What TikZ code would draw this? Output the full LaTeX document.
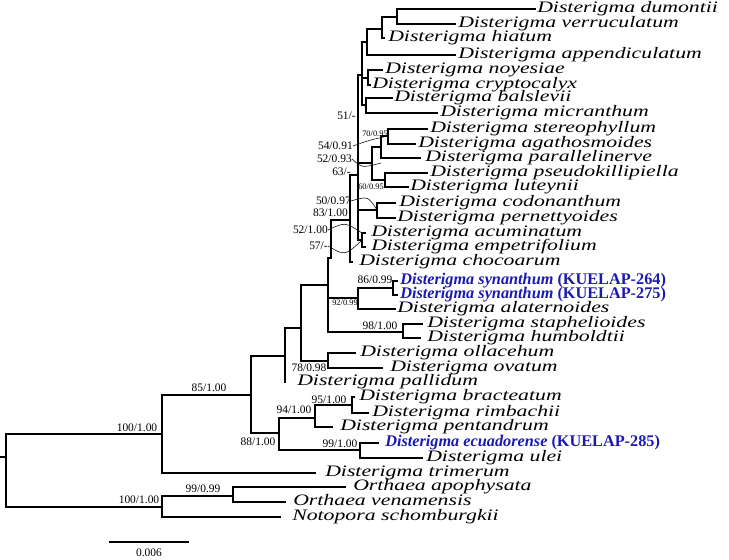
\documentclass[tikz,border=0pt]{standalone}
\usepackage{fontspec}
\setmainfont{Liberation Serif}
\newfontfamily\lfont[FakeStretch=1.36]{Liberation Serif}
\definecolor{kblue}{HTML}{1A1AB0}
\newcommand\brr[2]{\draw[tree] (#1) |- (#2);}
\newcommand\lv[5]{\coordinate (#1) at (#2,#3); \node[leaftxt] (#1-l) at (#4,#3) {#5};}
\newcommand\bl[2]{\color{kblue}\fontsize{12.2}{12}\rmfamily\bfseries\itshape #1 \upshape #2}
\begin{document}
\begin{tikzpicture}[x=0.75pt,y=-0.75pt,
  tree/.style={line width=1.1pt,line cap=rect},
  leaftxt/.style={anchor=mid west,inner sep=0pt,font=\lfont\itshape\fontsize{12}{12}\selectfont},
  sup/.style={inner sep=0pt,font=\fontsize{8.6}{9}\selectfont},
  supsm/.style={inner sep=0pt,font=\fontsize{6.3}{7}\selectfont},
  lead/.style={line width=0.4pt}]
\useasboundingbox (0,0) rectangle (729,560);
% internal nodes
\coordinate (stub) at (0,457);
\coordinate (root) at (6,457);
\coordinate (ing) at (162,434);
\coordinate (out) at (162,507);
\coordinate (n99o) at (233,496);
\coordinate (n85) at (251,395);
\coordinate (n88) at (279,433);
\coordinate (n94) at (315,418);
\coordinate (n95) at (352,405);
\coordinate (n99) at (360,450);
\coordinate (nA) at (285,356);
\coordinate (nB) at (301,328);
\coordinate (nOll) at (328,361);
\coordinate (nCore) at (328,285);
\coordinate (nC2) at (331,258);
\coordinate (n92) at (358,298);
\coordinate (n86) at (393,288);
\coordinate (n98) at (403,332);
\coordinate (nD) at (350,220);
\coordinate (nE) at (358,175);
\coordinate (nAE) at (362,240);
\coordinate (nCod) at (377,210);
\coordinate (nMid) at (372,163);
\coordinate (n70g) at (381,147);
\coordinate (n70) at (388,136);
\coordinate (nPse) at (385,180);
\coordinate (nTop) at (362,75);
\coordinate (nT1) at (367,42);
\coordinate (nT1a) at (382,29);
\coordinate (nDV) at (397,17);
\coordinate (nNC) at (368,78);
\coordinate (nBal) at (366,105);
% leaves
\lv{dum}{535}{9}{537}{Disterigma dumontii}
\lv{ver}{455}{24}{458}{Disterigma verruculatum}
\lv{hia}{384}{38}{388}{Disterigma hiatum}
\lv{app}{455}{55}{458}{Disterigma appendiculatum}
\lv{noy}{382}{70}{385}{Disterigma noyesiae}
\lv{cry}{370}{85}{372}{Disterigma cryptocalyx}
\lv{bal}{392}{98}{394}{Disterigma balslevii}
\lv{mic}{437}{113}{440}{Disterigma micranthum}
\lv{ste}{427}{129}{430}{Disterigma stereophyllum}
\lv{aga}{415}{144}{418}{Disterigma agathosmoides}
\lv{par}{420}{158}{425}{Disterigma parallelinerve}
\lv{pse}{427}{173}{430}{Disterigma pseudokillipiella}
\lv{lut}{408}{187}{410}{Disterigma luteynii}
\lv{cod}{395}{203}{399}{Disterigma codonanthum}
\lv{per}{395}{218}{397}{Disterigma pernettyoides}
\lv{acu}{365}{233}{371}{Disterigma acuminatum}
\lv{emp}{365}{247}{371}{Disterigma empetrifolium}
\lv{cho}{352}{262}{359}{Disterigma chocoarum}
\lv{syn1}{397}{281}{400}{\bl{Disterigma synanthum}{(KUELAP-264)}}
\lv{syn2}{397}{295}{400}{\bl{Disterigma synanthum}{(KUELAP-275)}}
\lv{ala}{395}{309}{397}{Disterigma alaternoides}
\lv{sta}{422}{324}{427}{Disterigma staphelioides}
\lv{hum}{420}{338}{427}{Disterigma humboldtii}
\lv{oll}{355}{353}{360}{Disterigma ollacehum}
\lv{ova}{382}{368}{390}{Disterigma ovatum}
\lv{pal}{285}{382}{297}{Disterigma pallidum}
\lv{bra}{354}{397}{359}{Disterigma bracteatum}
\lv{rim}{368}{413}{372}{Disterigma rimbachii}
\lv{pen}{332}{427}{340}{Disterigma pentandrum}
\lv{ecu}{378}{443}{385}{\bl{Disterigma ecuadorense}{(KUELAP-285)}}
\lv{ule}{422}{458}{426}{Disterigma ulei}
\lv{tri}{315}{473}{325}{Disterigma trimerum}
\lv{apo}{345}{487}{353}{Orthaea apophysata}
\lv{ven}{285}{502}{293}{Orthaea venamensis}
\lv{not}{280}{517}{292}{Notopora schomburgkii}
% branches
\draw[tree] (stub) -- (root);
\brr{root}{ing}\brr{root}{out}
\brr{out}{n99o}\brr{out}{not}
\brr{n99o}{apo}\brr{n99o}{ven}
\brr{ing}{n85}\brr{ing}{tri}
\brr{n85}{nA}\brr{n85}{n88}
\brr{n88}{n94}\brr{n88}{n99}
\brr{n94}{n95}\brr{n94}{pen}
\brr{n95}{bra}\brr{n95}{rim}
\brr{n99}{ecu}\brr{n99}{ule}
\brr{nA}{nB}\brr{nA}{pal}
\brr{nB}{nCore}\brr{nB}{nOll}
\brr{nOll}{oll}\brr{nOll}{ova}
\brr{nCore}{nC2}\brr{nCore}{n92}\brr{nCore}{n98}
\brr{n92}{n86}\brr{n92}{ala}
\brr{n86}{syn1}\brr{n86}{syn2}
\brr{n98}{sta}\brr{n98}{hum}
\brr{nC2}{nD}
\brr{nD}{nE}\brr{nD}{cho}
\brr{nE}{nTop}\brr{nE}{nMid}\brr{nE}{nCod}\brr{nE}{nAE}
\brr{nAE}{acu}\brr{nAE}{emp}
\brr{nCod}{cod}\brr{nCod}{per}
\brr{nMid}{n70g}\brr{nMid}{nPse}
\brr{n70g}{n70}\brr{n70g}{par}
\brr{n70}{ste}\brr{n70}{aga}
\brr{nPse}{pse}\brr{nPse}{lut}
\brr{nTop}{nT1}\brr{nTop}{nNC}\brr{nTop}{nBal}
\brr{nT1}{nT1a}\brr{nT1}{app}
\brr{nT1a}{nDV}\brr{nT1a}{hia}
\brr{nDV}{dum}\brr{nDV}{ver}
\brr{nNC}{noy}\brr{nNC}{cry}
\brr{nBal}{bal}\brr{nBal}{mic}
% support values
\node[sup] (s1) at (137,428) {100/1.00};
\node[sup] (s2) at (139,500) {100/1.00};
\node[sup] (s3) at (203,489) {99/0.99};
\node[sup] (s4) at (209,388) {85/1.00};
\node[sup] (s5) at (258,442) {88/1.00};
\node[sup] (s6) at (294,410) {94/1.00};
\node[sup] (s7) at (329,400) {95/1.00};
\node[sup] (s8) at (340,444) {99/1.00};
\node[sup] (s9) at (309,368) {78/0.98};
\node[sup] (s10) at (380,326) {98/1.00};
\node[sup] (s11) at (375,280) {86/0.99};
\node[supsm] (s12) at (345,303) {92/0.99};
\node[sup,anchor=east] (s13) at (356,116) {51/-};
\node[sup,anchor=east] (s14) at (353,146) {54/0.91};
\node[sup,anchor=east] (s15) at (352,159) {52/0.93};
\node[sup,anchor=east] (s16) at (351,172) {63/-};
\node[supsm] (s17) at (375,134) {70/0.95};
\node[supsm] (s18) at (371,187) {60/0.95};
\node[sup,anchor=east] (s19) at (351,201) {50/0.97};
\node[sup,anchor=east] (s20) at (348,213) {83/1.00};
\node[sup,anchor=east] (s21) at (328,230) {52/1.00};
\node[sup,anchor=east] (s22) at (328,246) {57/-};
% leader lines
\draw[lead] (s14.east) .. controls (370,140) .. (n70);
\draw[lead] (s15.east) .. controls (362,168) .. (n70g|-nMid);
\draw[lead] (s19.east) .. controls (368,196) .. (nCod);
\draw[lead] (s21.east) .. controls (345,222) .. (nAE|-acu);
\draw[lead] (s22.east) .. controls (345,256) .. (nAE);
% scale bar
\coordinate (sbl) at (109,542);
\coordinate (sbr) at (189,542);
\draw[line width=0.9pt] (sbl) -- (sbr);
\node[sup] (sbt) at (149,553) {0.006};
\end{tikzpicture}
\end{document}
